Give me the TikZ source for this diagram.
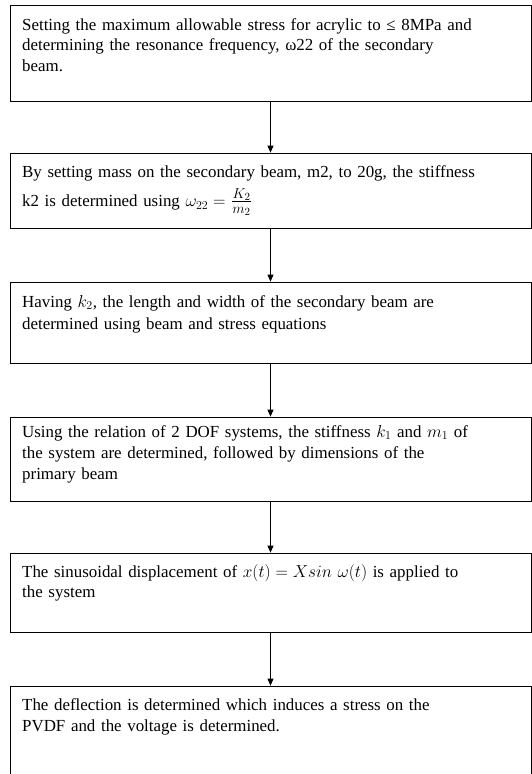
\documentclass[tikz,border=0pt]{standalone}
\usepackage{fontspec}
\setmainfont{Liberation Serif}
\usetikzlibrary{arrows.meta}
\begin{document}
\begin{tikzpicture}[x=1pt,y=-1pt,
  box/.style={draw=black, line width=0.8pt, rectangle, inner sep=0pt, minimum width=521pt},
  txt/.style={inner sep=0pt, anchor=base west, text width=505pt, align=left,
    font=\fontsize{16.9}{21}\selectfont},
  flow/.style={line width=0.8pt, -{Triangle[length=7pt,width=6pt]}}]
\useasboundingbox (0,0) rectangle (532,774);
\fill[white] (0,0) rectangle (532,774);
% boxes
\node[box, minimum height=96pt] (b1) at (270.5,53) {};
\node[box, minimum height=75pt] (b2) at (270.5,190.5) {};
\node[box, minimum height=81pt] (b3) at (270.5,322.5) {};
\node[box, minimum height=84pt] (b4) at (270.5,459) {};
\node[box, minimum height=79pt] (b5) at (270.5,592.5) {};
\node[box, minimum height=104pt] (b6) at (270.5,738) {};
% texts
\node[txt, font=\fontsize{16.9}{20.5}\selectfont] (t1) at (22,30) {Setting the maximum allowable stress for acrylic to ≤ 8MPa and\\ determining the resonance frequency, ω22 of the secondary\\ beam.};
\node[txt] (t2) at (22,177) {By setting mass on the secondary beam, m2, to 20g, the stiffness\\[7pt] k2 is determined using $\omega_{22} =$ {\fontsize{21}{21}\selectfont$\frac{K_2}{m_2}$}};
\node[txt] (t3) at (22,307) {Having $k_2$, the length and width of the secondary beam are\\[1pt] determined using beam and stress equations};
\node[txt] (t4) at (22,437) {Using the relation of 2 DOF systems, the stiffness $k_1$ and $m_1$ of\\ the system are determined, followed by dimensions of the\\ primary beam};
\node[txt] (t5) at (22,577) {The sinusoidal displacement of $x(t) = Xsin\ \omega(t)$ is applied to\\[-1pt] the system};
\node[txt] (t6) at (22,710) {The deflection is determined which induces a stress on the\\ PVDF and the voltage is determined.};
% connectors
\draw[flow] (b1.south) -- (b2.north);
\draw[flow] (b2.south) -- (b3.north);
\draw[flow] (b3.south) -- (b4.north);
\draw[flow] (b4.south) -- (b5.north);
\draw[flow] (b5.south) -- (b6.north);
\end{tikzpicture}
\end{document}
